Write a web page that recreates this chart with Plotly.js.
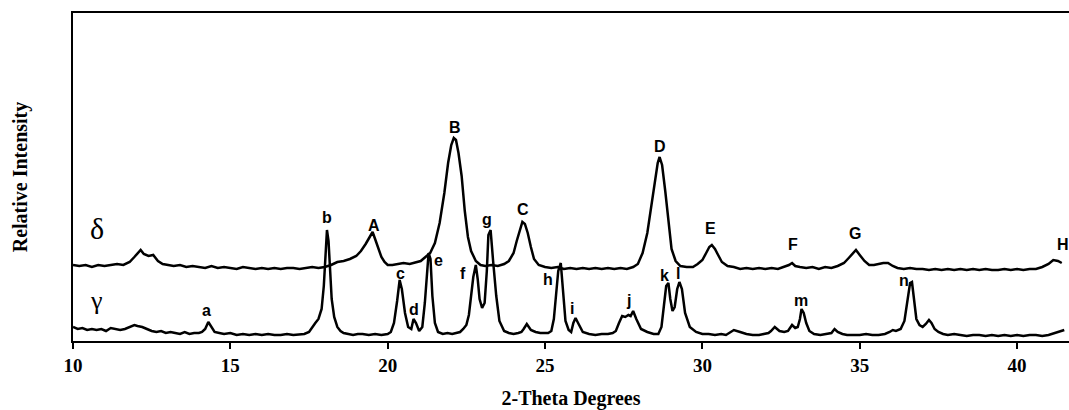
<!DOCTYPE html>
<html>
<head>
<meta charset="utf-8">
<script src="https://cdn.plot.ly/plotly-3.0.1.min.js"></script>
<style>html,body{margin:0;padding:0;background:#fff;}#chart{width:1069px;height:410px;}</style>
</head>
<body>
<div id="chart"></div>
<script>
// gamma phase pattern (2-theta, relative intensity)
const gammaX = [10.0,10.15,10.3,10.45,10.6,10.75,10.9,11.05,11.2,11.35,11.5,11.65,11.8,11.95,12.05,12.2,12.35,12.5,12.65,12.8,12.95,13.1,13.25,13.4,13.55,13.7,13.85,14.0,14.1,14.2,14.3,14.4,14.5,14.65,14.8,15.0,15.2,15.4,15.6,15.8,16.0,16.2,16.4,16.6,16.8,17.0,17.2,17.35,17.5,17.6,17.7,17.8,17.9,17.97,18.03,18.07,18.12,18.17,18.22,18.3,18.4,18.5,18.6,18.75,18.9,19.05,19.2,19.4,19.6,19.8,20.0,20.1,20.2,20.3,20.38,20.45,20.55,20.65,20.75,20.82,20.9,21.0,21.1,21.18,21.25,21.3,21.36,21.42,21.5,21.6,21.75,21.9,22.05,22.2,22.3,22.4,22.5,22.58,22.65,22.72,22.8,22.86,22.92,23.0,23.08,23.15,23.2,23.27,23.35,23.45,23.55,23.7,23.85,24.0,24.15,24.25,24.32,24.42,24.55,24.7,24.85,25.0,25.1,25.2,25.28,25.35,25.42,25.5,25.57,25.65,25.75,25.83,25.9,25.97,26.05,26.2,26.4,26.6,26.8,27.0,27.15,27.25,27.35,27.45,27.55,27.65,27.72,27.8,27.9,28.05,28.25,28.45,28.6,28.7,28.78,28.85,28.92,28.98,29.05,29.12,29.2,29.27,29.35,29.45,29.6,29.8,30.0,30.2,30.4,30.6,30.75,30.85,31.0,31.2,31.4,31.6,31.8,31.95,32.1,32.18,32.3,32.45,32.6,32.72,32.85,32.95,33.03,33.1,33.15,33.22,33.3,33.4,33.55,33.75,33.95,34.1,34.2,34.3,34.45,34.6,34.8,35.0,35.2,35.4,35.6,35.8,35.95,36.05,36.15,36.3,36.42,36.52,36.6,36.66,36.72,36.8,36.9,37.0,37.1,37.2,37.28,37.38,37.5,37.65,37.8,38.0,38.2,38.4,38.6,38.8,39.0,39.2,39.4,39.6,39.8,40.0,40.2,40.4,40.6,40.8,41.0,41.2,41.35,41.5,41.65];
const gammaY = [14,12,13,11,12,11,12,10,13,12,11,12,14,16,15,14,12,10,9,10,8,9,8,7,9,7,8,8,9,12,19,14,9,8,7,8,6,7,6,7,6,7,6,6,7,6,7,7,9,14,18,22,32,55,95,111,100,70,42,24,14,10,8,7,6,7,7,6,7,6,7,9,18,40,61,52,28,14,12,22,18,10,14,38,74,88,82,45,18,9,7,8,7,8,9,12,16,26,45,64,76,62,42,33,38,70,106,111,80,45,20,10,8,7,8,9,12,17,11,9,8,8,8,10,22,46,70,78,50,20,11,9,18,23,18,9,7,6,7,7,8,10,18,25,24,26,25,30,22,12,9,7,7,14,36,55,58,42,30,34,52,59,52,28,14,9,7,7,6,7,6,8,11,9,7,6,6,7,8,10,14,10,9,10,16,13,14,22,32,28,18,10,7,6,7,8,12,9,7,6,6,6,7,6,6,7,9,11,10,12,20,40,58,59,45,22,16,14,17,21,18,12,9,7,6,7,6,5,6,6,5,6,5,6,5,6,5,6,6,5,6,8,10,11];
// delta phase pattern (offset upward in the figure)
const deltaX = [10.0,10.2,10.4,10.6,10.8,11.0,11.2,11.4,11.6,11.8,11.95,12.05,12.15,12.25,12.4,12.55,12.7,12.85,13.0,13.2,13.4,13.6,13.8,14.0,14.2,14.4,14.6,14.8,15.0,15.2,15.4,15.6,15.8,16.0,16.2,16.4,16.6,16.8,17.0,17.2,17.4,17.6,17.8,18.0,18.2,18.4,18.6,18.8,19.0,19.15,19.3,19.42,19.52,19.6,19.7,19.8,19.9,20.0,20.15,20.3,20.5,20.7,20.9,21.05,21.2,21.35,21.5,21.65,21.8,21.92,22.02,22.1,22.17,22.25,22.35,22.45,22.55,22.65,22.8,22.95,23.1,23.3,23.5,23.7,23.85,24.0,24.1,24.2,24.28,24.36,24.45,24.55,24.65,24.8,25.0,25.2,25.4,25.6,25.8,26.0,26.2,26.4,26.6,26.8,27.0,27.2,27.4,27.6,27.8,27.95,28.1,28.25,28.38,28.5,28.58,28.64,28.72,28.82,28.92,29.02,29.15,29.3,29.5,29.7,29.85,30.0,30.12,30.22,30.3,30.4,30.5,30.62,30.8,31.0,31.2,31.4,31.6,31.8,32.0,32.2,32.4,32.6,32.75,32.85,32.95,33.1,33.3,33.5,33.7,33.9,34.1,34.3,34.5,34.65,34.78,34.88,35.0,35.15,35.3,35.45,35.6,35.75,35.9,36.05,36.2,36.4,36.6,36.8,37.0,37.2,37.4,37.6,37.8,38.0,38.2,38.4,38.6,38.8,39.0,39.2,39.4,39.6,39.8,40.0,40.2,40.4,40.6,40.8,41.0,41.15,41.3,41.42,41.52,41.65];
const deltaY = [76,75,76,74,76,75,76,77,76,79,84,88,91,87,85,86,80,77,76,75,76,74,75,74,73,75,73,74,73,72,74,73,72,73,72,73,72,73,73,72,73,74,73,74,76,79,80,82,85,90,97,104,109,102,94,84,79,76,76,77,78,77,79,80,84,88,98,118,148,178,196,203,201,188,165,130,104,90,80,76,75,76,75,77,80,88,100,112,119,117,108,94,82,76,74,73,74,72,73,72,73,72,73,72,73,72,73,72,74,77,88,108,135,162,178,184,176,150,118,92,80,75,74,74,77,81,88,94,96,92,86,79,75,74,72,73,72,73,72,73,72,74,76,78,75,74,73,74,72,74,73,75,78,83,88,91,86,80,76,76,77,78,78,75,73,72,73,72,72,71,72,71,72,71,72,71,72,71,72,71,71,72,71,72,71,72,72,74,77,81,80,78];
// peak labels
const peakLabels = ["a","b","c","d","e","f","g","h","i","j","k","l","m","n","A","B","C","D","E","F","G","H"];
const peakLabelX = [14.23,18.07,20.42,20.84,21.63,22.39,23.16,25.09,25.86,27.64,28.81,29.22,33.13,36.41,19.56,22.14,24.30,28.65,30.27,32.88,34.85,41.46];
const peakLabelY = [31,124,68,32,81,68,122,62,33,41,66,68,41,61,116,214,132,195,113,97,108,97];
const phaseNames = ["δ","γ"];
const phaseNameY = [113,41];

const lineStyle = {color:'#000', width:2.5};
const traces = [
  {x: gammaX, y: gammaY, type:'scatter', mode:'lines', line: lineStyle, hoverinfo:'skip', showlegend:false},
  {x: deltaX, y: deltaY, type:'scatter', mode:'lines', line: lineStyle, hoverinfo:'skip', showlegend:false}
];

const annotations = peakLabels.map((t,i)=>({
  x: peakLabelX[i], y: peakLabelY[i], xref:'x', yref:'y', text: '<b>'+t+'</b>', showarrow:false,
  font:{family:'Liberation Sans, Arial, sans-serif', size:16, color:'#000'}
}));
phaseNames.forEach((t,i)=>annotations.push({
  x: 10.76, y: phaseNameY[i], xref:'x', yref:'y', text: t, showarrow:false,
  font:{family:'Liberation Serif, Times New Roman, serif', size:i===0?30:26, color:'#000'}
}));

const layout = {
  width:1069, height:410,
  margin:{l:73, r:0, t:13, b:69},
  paper_bgcolor:'#fff', plot_bgcolor:'#fff',
  xaxis:{
    range:[10,41.65], tickmode:'array', tickvals:[10,15,20,25,30,35,40],
    ticks:'outside', ticklen:6, tickwidth:2, tickcolor:'#000',
    showline:true, linecolor:'#000', linewidth:2, mirror:true,
    showgrid:false, zeroline:false,
    tickfont:{family:'Liberation Serif, Times New Roman, serif', size:19, color:'#000', weight:'bold'},
    title:{text:'<b>2-Theta Degrees</b>', standoff:22, font:{family:'Liberation Serif, Times New Roman, serif', size:20, color:'#000'}}
  },
  yaxis:{
    range:[0,328], showticklabels:false, ticks:'',
    showline:true, linecolor:'#000', linewidth:2,
    showgrid:false, zeroline:false,
    title:{text:'<b>Relative Intensity</b>', standoff:38, font:{family:'Liberation Serif, Times New Roman, serif', size:20, color:'#000'}}
  },
  annotations: annotations
};

Plotly.newPlot('chart', traces, layout, {staticPlot:true, displayModeBar:false});
</script>
</body>
</html>
